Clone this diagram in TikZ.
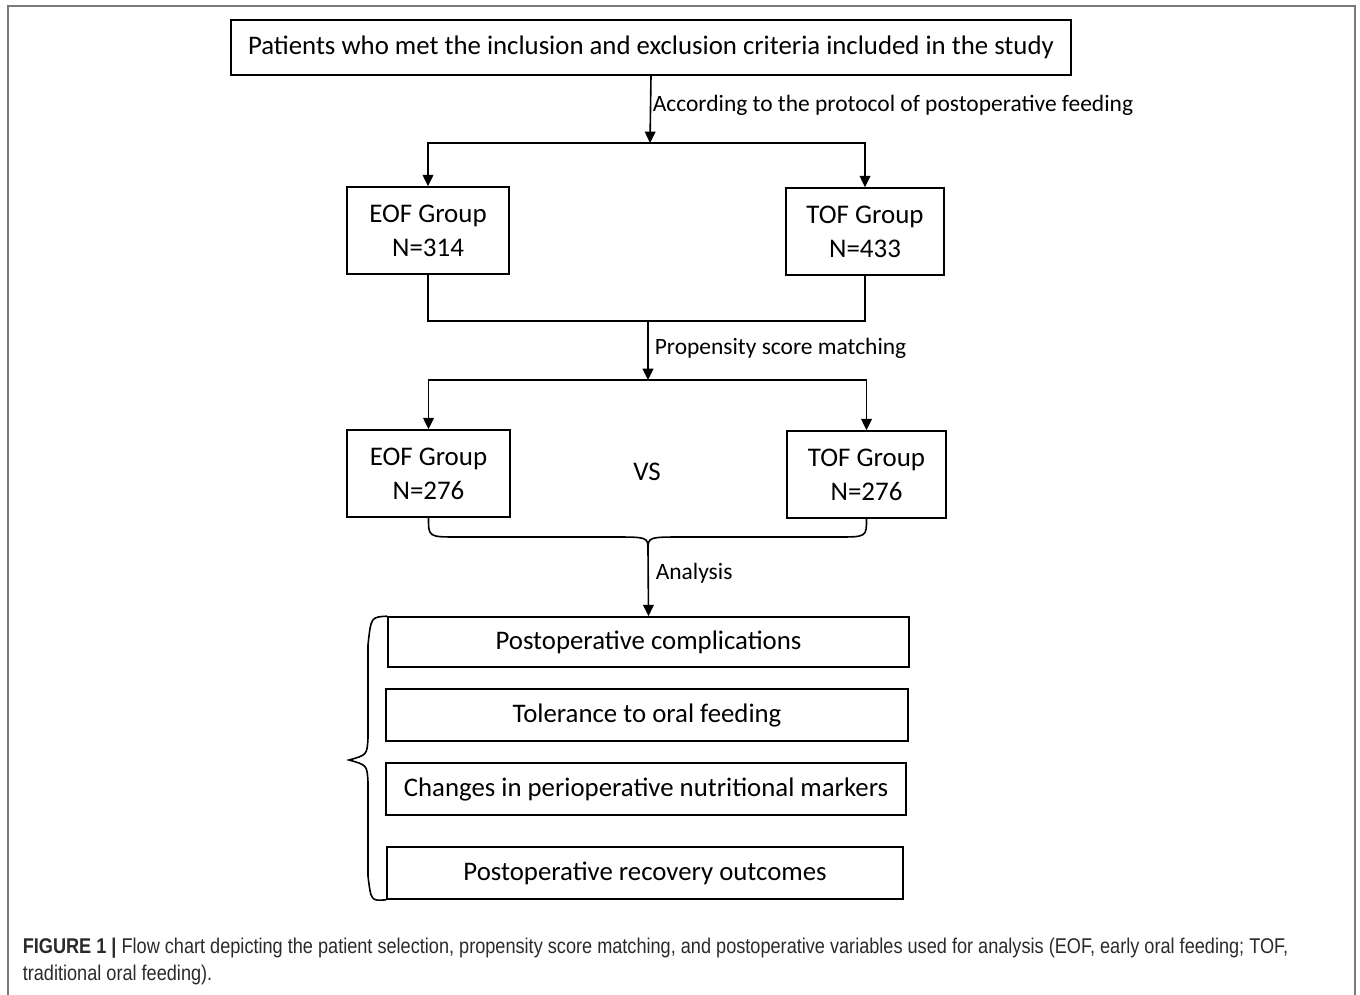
\documentclass[tikz,border=0pt]{standalone}
\usepackage{fontspec}
\setmainfont{Carlito}
\newfontfamily\capfont[FakeStretch=0.85]{Liberation Sans}
\usetikzlibrary{arrows.meta}
\definecolor{framegray}{HTML}{7A7A7A}
\definecolor{captext}{HTML}{2A2A2A}
\begin{document}
\begin{tikzpicture}[x=0.75pt,y=-0.75pt,
  line width=1.2pt,
  arr/.style={-{Triangle[length=8.5pt,width=8pt]}},
  box/.style={draw,inner sep=0pt,align=center},
  toptext/.style={font=\fontsize{20.1}{24}\selectfont},
  grptext/.style={font=\fontsize{20.2}{25.5}\selectfont},
  restext/.style={font=\fontsize{20.1}{24}\selectfont},
  lbl/.style={font=\fontsize{17.6}{20}\selectfont,anchor=west,inner sep=0pt},
  captxt/.style={font=\capfont\fontsize{16}{19}\selectfont,text=captext,anchor=west,inner sep=0pt}]
\useasboundingbox (0,0) rectangle (1360,995);
\draw[framegray,line width=1.5pt] (7.5,1000) -- (7.5,6.5) -- (1355,6.5) -- (1355,1000);

\node[box,toptext,minimum width=630pt,minimum height=41.25pt] (top) at (651,47.5)
  {Patients who met the inclusion and exclusion criteria included in the study};
\node[box,grptext,minimum width=121.5pt,minimum height=65.25pt] (eof1) at (428,230.5) {EOF Group\\N=314};
\node[box,grptext,minimum width=118.5pt,minimum height=65.25pt] (tof1) at (865,231.5) {TOF Group\\N=433};
\node[box,grptext,minimum width=122.25pt,minimum height=65.25pt] (eof2) at (428.5,473.5) {EOF Group\\N=276};
\node[box,grptext,minimum width=119.25pt,minimum height=65.25pt] (tof2) at (866.5,474.5) {TOF Group\\N=276};
\node[grptext,inner sep=0pt] (vs) at (647,472) {VS};

\node[box,restext,minimum width=390.75pt,minimum height=37.5pt] (r1) at (648.5,642) {Postoperative complications};
\node[box,restext,minimum width=391.5pt,minimum height=39pt] (r2) at (647,715) {Tolerance to oral feeding};
\node[box,restext,minimum width=390pt,minimum height=39pt] (r3) at (646,789) {Changes in perioperative nutritional markers};
\node[box,restext,minimum width=387pt,minimum height=39pt] (r4) at (645,873) {Postoperative recovery outcomes};

\coordinate (j1) at (650,143);
\coordinate (j2) at (648,321);
\coordinate (j3) at (648,380);
\coordinate (bt) at (648,550);

\draw[arr] (top.south) -- (j1);
\draw[arr] (j1) -| (eof1.north);
\draw[arr] (j1) -| (tof1.north);
\node[lbl] (l1) at (652,105) {According to the protocol of postoperative feeding};

\draw (eof1.south) |- (j2) -| (tof1.south);
\draw[arr] (j2) -- (j3);
\node[lbl] (l2) at (654,348) {Propensity score matching};
\draw[arr] (j3) -| (eof2.north);
\draw[arr] (j3) -| (tof2.north);

\draw (eof2.south) .. controls (428.5,537) .. (458,537) -- (612,537) .. controls (648,537) .. (bt);
\draw (tof2.south) .. controls (866.5,537) .. (837,537) -- (684,537) .. controls (648,537) .. (bt);
\draw[arr] (bt) -- (r1.north);
\node[lbl] (l3) at (655,573) {Analysis};

\draw (r1.north west) .. controls (371,617) .. (368,645) -- (368,738)
  .. controls (367,755) .. (349,760) .. controls (367,765) .. (368,782)
  -- (368,876) .. controls (371,901) .. (r4.south west);

\node[captxt] (c1) at (22,948) {\textbf{FIGURE 1 |} Flow chart depicting the patient selection, propensity score matching, and postoperative variables used for analysis (EOF, early oral feeding; TOF,};
\node[captxt] (c2) at (22,975) {traditional oral feeding).};
\end{tikzpicture}
\end{document}
